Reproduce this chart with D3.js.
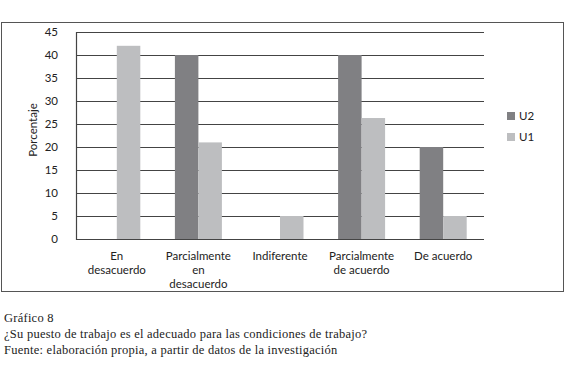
<!DOCTYPE html>
<html><head><meta charset="utf-8">
<script src="https://cdn.jsdelivr.net/npm/d3@7"></script>
<style>
body{margin:0;background:#fff;}
svg{display:block;}
.tick text{font-family:Lato, sans-serif;}
</style></head>
<body>
<svg id="chart" width="580" height="365"></svg>
<script>
const categories = [["En","desacuerdo"],["Parcialmente","en","desacuerdo"],["Indiferente"],["Parcialmente","de acuerdo"],["De acuerdo"]];
const seriesNames = ["U2","U1"];
const u2Values = [0,40,0,40,20];
const u1Values = [42,21,5,26.3,5];
const yTicks = [0,5,10,15,20,25,30,35,40,45];
const captionLines = ["Gráfico 8","¿Su puesto de trabajo es el adecuado para las condiciones de trabajo?","Fuente: elaboración propia, a partir de datos de la investigación"];
const colors = {U2:"#808083", U1:"#bdbec0"};

const svg = d3.select("#chart");
svg.append("rect").attr("x",1.5).attr("y",22.5).attr("width",562).attr("height",269)
  .attr("fill","none").attr("stroke","#555").attr("stroke-width",1);

const pL=76, pR=484, pT=32, pB=239;
const x0 = d3.scaleBand().domain(d3.range(categories.length)).range([pL,pR]);
const x1 = d3.scaleBand().domain(seriesNames).range([0,47]);
const y = d3.scaleLinear().domain([0,45]).range([pB,pT]);

const g = svg.append("g");
g.selectAll("line.grid").data(yTicks).join("line")
  .attr("x1",pL).attr("x2",pR).attr("y1",d=>Math.round(y(d))+0.5).attr("y2",d=>Math.round(y(d))+0.5)
  .attr("stroke","#444").attr("stroke-width",1.2);
g.append("line").attr("x1",pL+0.5).attr("x2",pL+0.5).attr("y1",pT).attr("y2",pB+1)
  .attr("stroke","#444").attr("stroke-width",1.2);

const data = categories.map((c,i)=>({i, vals:[{s:"U2",v:u2Values[i]},{s:"U1",v:u1Values[i]}]}));
const grp = g.selectAll("g.cat").data(data).join("g")
  .attr("transform",d=>`translate(${x0(d.i)+(x0.bandwidth()-47)/2},0)`);
grp.selectAll("rect").data(d=>d.vals.filter(e=>e.v>0)).join("rect")
  .attr("x",d=>x1(d.s)).attr("width",x1.bandwidth())
  .attr("y",d=>y(d.v)).attr("height",d=>pB-y(d.v))
  .attr("fill",d=>colors[d.s]);
g.append("line").attr("x1",pL).attr("x2",pR).attr("y1",pB+0.5).attr("y2",pB+0.5)
  .attr("stroke","#444").attr("stroke-width",1.2);

const yAxis = d3.axisLeft(y).tickValues(yTicks).tickSize(0).tickPadding(18);
const ya = svg.append("g").attr("transform",`translate(${pL},0)`).call(yAxis);
ya.select(".domain").remove();
ya.selectAll("text").attr("font-size",11.5).attr("fill","#222");

const xl = svg.append("g");
categories.forEach((c,i)=>{
  const cx = x0(i)+x0.bandwidth()/2;
  const t = xl.append("text").attr("x",cx).attr("y",260)
    .attr("text-anchor","middle").attr("font-family","Lato, sans-serif").attr("font-size",11.5).attr("fill","#222");
  c.forEach((line,j)=>t.append("tspan").attr("x",cx).attr("dy",j?14:0).text(line));
});

svg.append("text").attr("transform","translate(37,130) rotate(-90)").attr("text-anchor","middle")
  .attr("font-family","Lato, sans-serif").attr("font-size",11.5).attr("fill","#222").text("Porcentaje");

const lg = svg.append("g");
seriesNames.forEach((s,i)=>{
  lg.append("rect").attr("x",507).attr("y",112+i*21).attr("width",8).attr("height",8).attr("fill",colors[s]);
  lg.append("text").attr("x",519).attr("y",120+i*21).attr("font-family","Lato, sans-serif").attr("font-size",11.5).attr("fill","#222").text(s);
});

captionLines.forEach((t,i)=>{
  svg.append("text").attr("x",4).attr("y",322+i*16).attr("font-family","'Liberation Serif', serif")
    .attr("font-size",12.5).attr("letter-spacing",0.25).attr("fill","#222").text(t);
});
</script>
</body></html>
